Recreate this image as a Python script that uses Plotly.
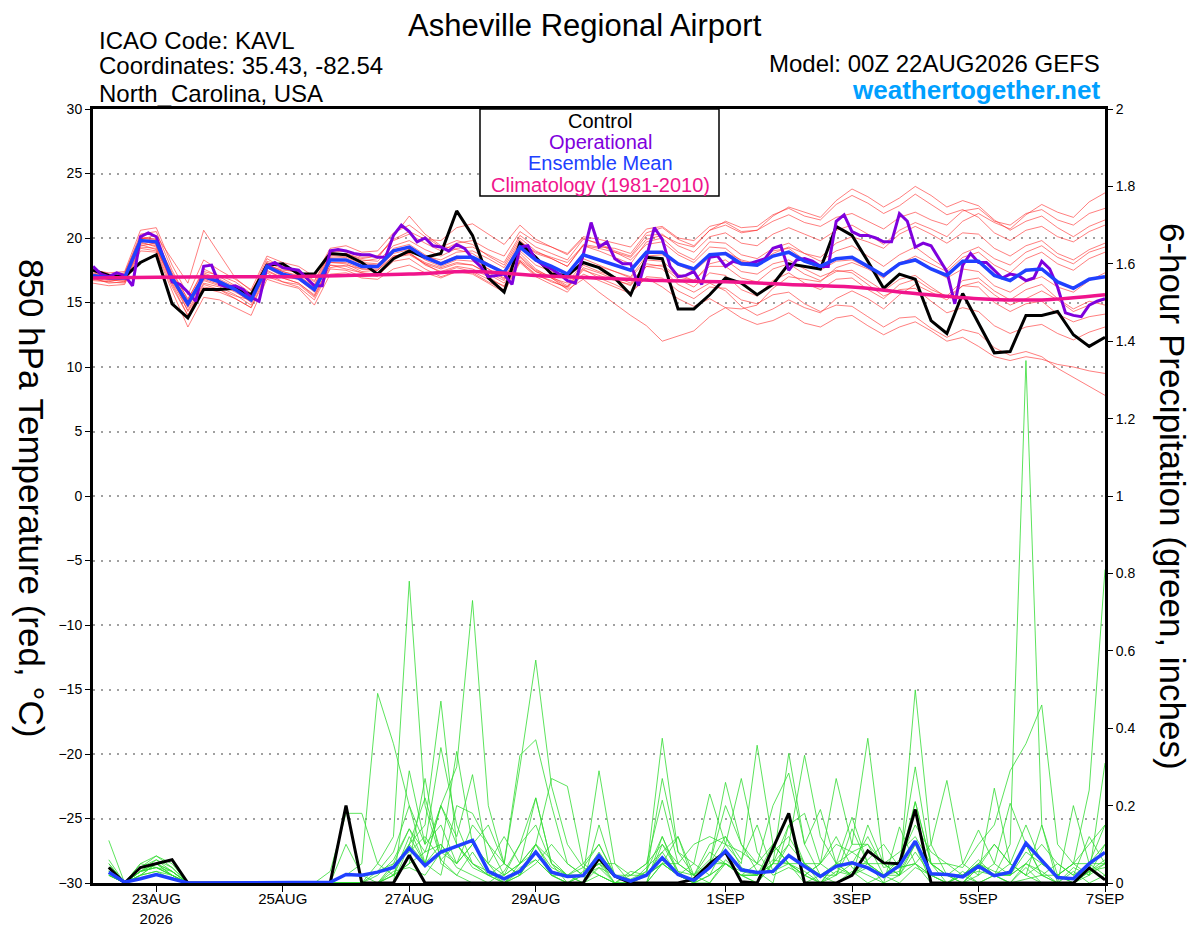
import pandas as pd
import plotly.graph_objects as go

# GEFS meteogram for KAVL, 00Z 22AUG2026 run
times_6h = pd.date_range('2026-08-22 00:00', '2026-09-07 00:00', freq='6h')
times_3h = pd.date_range('2026-08-22 00:00', '2026-09-07 00:00', freq='3h')
precip_times = times_6h[1:]

tick_dates = ['2026-08-23', '2026-08-25', '2026-08-27', '2026-08-29',
              '2026-09-01', '2026-09-03', '2026-09-05', '2026-09-07']
tick_labels = ['23AUG<br>2026', '25AUG', '27AUG', '29AUG', '1SEP', '3SEP', '5SEP', '7SEP']

# 850 hPa temperature, deg C (6-hourly)
control_t = [17.5, 17.1, 17.0, 18.1, 18.7, 14.9, 13.8, 16.0, 16.0, 16.1, 15.6,
             17.9, 18.0, 17.2, 17.2, 18.8, 18.7, 18.1, 17.2, 18.4, 19.0, 18.5,
             18.8, 22.1, 20.2, 16.9, 15.8, 19.6, 18.5, 17.2, 17.1, 18.1, 17.7,
             16.9, 15.6, 18.5, 18.4, 14.5, 14.5, 15.6, 16.9, 16.5, 15.6, 16.4,
             18.0, 17.8, 17.6, 20.9, 20.2, 18.2, 16.1, 17.2, 16.8, 13.6, 12.6,
             15.7, 13.4, 11.1, 11.2, 14.0, 14.0, 14.3, 12.5, 11.6, 12.3]

mean_t = [17.1, 16.9, 16.9, 19.8, 19.7, 16.9, 14.9, 17.0, 16.6, 16.0, 15.2,
          17.8, 17.2, 16.9, 16.0, 18.3, 18.3, 17.8, 17.8, 19.0, 19.3, 18.5,
          18.0, 18.5, 18.5, 17.9, 17.3, 19.3, 18.3, 17.8, 17.2, 18.7, 18.3,
          17.9, 17.5, 18.9, 18.9, 18.0, 17.6, 18.7, 18.8, 18.0, 17.9, 18.6,
          18.9, 18.2, 17.8, 18.4, 18.5, 17.8, 17.1, 18.0, 18.3, 17.6, 17.1,
          18.2, 18.2, 17.1, 16.7, 17.5, 17.6, 16.6, 16.1, 16.8, 17.0]

# operational run is 3-hourly
oper_t = [17.8, 17.2, 17.0, 17.3, 17.1, 16.3, 20.1, 20.4, 20.1, 18.4,
          16.6, 16.4, 15.8, 15.1, 17.8, 17.9, 16.4, 16.2, 16.3, 16.0,
          15.4, 15.1, 17.8, 18.1, 17.7, 17.6, 17.5, 16.9, 16.3, 16.3,
          19.0, 19.1, 19.0, 18.8, 18.7, 18.7, 18.5, 18.5, 20.2, 21.0,
          20.5, 19.7, 20.0, 19.4, 19.3, 19.0, 19.5, 19.2, 18.4, 17.8,
          17.0, 17.1, 17.2, 16.4, 19.3, 19.4, 18.3, 17.9, 17.6, 17.2,
          16.7, 16.5, 18.7, 21.2, 19.3, 19.7, 18.4, 18.0, 18.0, 16.3,
          18.5, 20.8, 19.9, 17.8, 17.0, 17.1, 17.4, 16.4, 18.5, 18.6,
          17.8, 18.2, 18.0, 18.0, 18.2, 18.4, 19.2, 19.4, 17.5, 18.3,
          18.4, 18.2, 17.8, 17.8, 21.3, 21.8, 20.5, 20.2, 20.2, 20.0,
          19.7, 19.7, 21.9, 21.3, 19.3, 19.6, 19.4, 18.4, 17.4, 14.9,
          17.9, 18.8, 18.1, 18.1, 17.5, 16.9, 17.2, 17.1, 16.7, 16.9,
          18.2, 17.6, 16.2, 14.2, 14.0, 13.9, 14.8, 15.1, 15.3]

# climatology (1981-2010), daily at 00Z
clim_dates = pd.date_range('2026-08-22', '2026-09-07', freq='D')
clim_t = [16.9, 16.95, 17.0, 17.0, 17.1, 17.2, 17.4, 17.1, 16.9,
          16.7, 16.6, 16.4, 16.2, 15.7, 15.3, 15.2, 15.6]

# ensemble members, 850 hPa temperature
red_01 = [17.3, 17.0, 17.2, 20.3, 20.5, 17.5, 15.2, 17.6, 17.0, 16.3, 15.5,
          18.2, 17.8, 17.5, 16.7, 18.9, 19.0, 18.5, 18.6, 19.8, 20.3, 19.6,
          19.0, 19.6, 19.8, 19.1, 18.6, 20.5, 19.7, 19.3, 18.8, 20.1, 19.9,
          19.6, 19.3, 20.7, 20.9, 20.0, 19.8, 20.9, 21.2, 20.5, 20.6, 21.3,
          21.8, 21.2, 20.9, 21.6, 21.9, 21.3, 20.7, 21.6, 22.0, 21.4, 21.0,
          22.1, 22.3, 21.3, 21.0, 21.9, 22.2, 21.4, 21.0, 21.9, 22.3]
red_02 = [16.8, 16.6, 16.5, 19.2, 19.0, 16.2, 14.0, 16.4, 16.0, 15.3, 14.6,
          17.3, 16.6, 16.2, 15.2, 17.6, 17.5, 17.0, 17.1, 18.2, 18.4, 17.6,
          17.0, 17.4, 17.2, 16.5, 15.8, 18.1, 17.0, 16.4, 15.8, 17.2, 16.7,
          16.2, 15.7, 17.0, 16.9, 15.9, 15.3, 16.2, 16.1, 15.2, 14.9, 15.6,
          15.8, 14.9, 14.3, 14.8, 14.7, 13.9, 13.1, 13.8, 13.9, 13.0, 12.3,
          12.9, 12.6, 11.5, 10.9, 11.2, 10.8, 9.9, 9.2, 8.5, 7.8]
red_03 = [17.0, 16.8, 16.6, 19.5, 19.1, 16.8, 14.6, 16.7, 16.3, 15.9, 15.0,
          17.4, 16.9, 16.5, 15.6, 17.9, 17.6, 17.3, 17.0, 18.4, 18.9, 17.9,
          17.4, 17.8, 17.6, 17.0, 16.2, 18.5, 17.4, 16.9, 16.2, 17.6, 16.9,
          16.4, 15.8, 16.9, 16.2, 15.3, 14.7, 15.3, 14.6, 13.8, 13.3, 13.6,
          14.2, 13.4, 13.1, 13.8, 14.0, 13.2, 12.5, 13.1, 13.5, 12.8, 12.0,
          12.3, 11.6, 10.8, 10.5, 10.8, 10.6, 10.2, 10.0, 9.7, 9.5]
red_04 = [17.5, 17.3, 17.4, 20.6, 20.8, 17.9, 15.6, 18.3, 17.5, 16.8, 16.0,
          18.6, 18.1, 17.8, 17.0, 19.2, 19.4, 18.9, 19.0, 20.4, 21.0, 20.1,
          19.3, 19.8, 19.5, 18.6, 17.9, 20.0, 19.0, 18.4, 17.8, 19.5, 19.3,
          19.2, 18.8, 20.4, 20.8, 19.9, 19.4, 20.6, 21.3, 20.8, 20.9, 21.8,
          22.3, 21.7, 21.4, 22.6, 23.3, 22.7, 21.9, 22.5, 23.4, 22.6, 21.8,
          22.2, 21.6, 20.4, 19.8, 20.6, 20.9, 20.1, 19.7, 20.5, 21.0]
red_05 = [16.9, 16.7, 16.8, 19.6, 19.4, 16.5, 14.4, 16.5, 16.2, 15.6, 14.8,
          17.5, 16.9, 16.5, 15.5, 17.9, 17.8, 17.3, 17.2, 18.5, 18.7, 18.0,
          17.6, 18.0, 17.9, 17.3, 16.7, 18.6, 17.5, 17.0, 16.3, 17.9, 17.4,
          17.0, 16.5, 18.0, 17.8, 16.8, 16.2, 17.3, 17.1, 16.0, 15.5, 16.7,
          17.3, 16.5, 16.0, 16.8, 16.9, 16.0, 15.3, 16.4, 16.8, 16.0, 15.5,
          16.7, 16.9, 15.9, 15.2, 16.0, 16.4, 15.3, 14.5, 15.1, 14.8]
red_06 = [17.6, 17.2, 17.0, 19.9, 20.2, 18.3, 16.5, 20.6, 18.8, 16.9, 15.9,
          17.9, 17.5, 17.4, 16.6, 18.8, 18.7, 18.2, 18.4, 20.1, 21.7, 20.3,
          19.4, 19.1, 18.8, 18.0, 17.4, 19.7, 18.9, 18.5, 18.1, 19.4, 19.0,
          18.5, 18.0, 19.7, 20.0, 18.9, 18.3, 19.7, 19.6, 18.7, 18.4, 19.2,
          19.6, 18.8, 18.2, 19.0, 19.4, 18.6, 17.8, 18.7, 19.3, 18.4, 17.6,
          18.8, 19.3, 18.4, 17.9, 18.9, 19.4, 18.5, 18.0, 18.9, 19.3]
red_07 = [16.5, 16.3, 16.4, 19.0, 18.9, 15.9, 13.1, 15.4, 15.2, 14.6, 14.0,
          16.8, 16.4, 16.1, 14.8, 17.2, 17.3, 16.9, 16.8, 17.6, 17.9, 17.3,
          16.9, 17.4, 17.3, 16.6, 16.0, 18.2, 17.2, 16.6, 16.2, 17.7, 17.3,
          16.8, 16.3, 17.8, 17.6, 16.4, 15.8, 16.5, 15.9, 14.7, 14.0, 14.5,
          15.2, 14.6, 14.2, 15.3, 15.9, 15.3, 14.5, 15.6, 16.4, 15.8, 15.2,
          16.3, 16.6, 15.6, 14.8, 15.3, 15.9, 15.2, 14.3, 14.8, 15.2]
red_08 = [17.1, 16.9, 17.1, 20.0, 19.8, 17.2, 15.0, 17.3, 16.8, 16.2, 15.3,
          17.9, 17.4, 17.1, 16.2, 18.4, 18.5, 18.0, 17.9, 19.2, 19.5, 18.7,
          18.1, 18.6, 18.4, 17.6, 16.8, 18.8, 17.6, 16.9, 16.0, 16.8, 15.8,
          14.9, 14.0, 13.2, 12.0, 12.4, 12.8, 13.9, 14.6, 14.5, 14.8, 16.1,
          17.0, 16.8, 16.6, 17.7, 18.1, 17.6, 16.9, 18.0, 18.6, 18.0, 17.4,
          18.5, 18.9, 17.9, 17.3, 18.4, 18.9, 18.0, 17.5, 18.4, 18.9]
red_09 = [17.2, 17.1, 17.3, 20.1, 19.9, 17.3, 15.3, 17.4, 17.1, 16.6, 15.7,
          18.4, 17.7, 17.3, 16.4, 18.7, 18.8, 18.3, 18.2, 19.4, 19.8, 19.1,
          18.6, 19.2, 19.3, 18.7, 18.1, 20.2, 19.3, 18.8, 18.3, 19.9, 19.6,
          19.0, 18.6, 20.2, 20.3, 19.4, 18.9, 20.1, 20.4, 19.6, 19.4, 20.3,
          20.8, 20.3, 19.8, 20.6, 21.0, 20.3, 19.5, 20.6, 21.2, 20.7, 20.1,
          21.3, 21.9, 21.2, 20.7, 21.8, 22.6, 22.0, 21.6, 22.8, 23.5]
red_10 = [16.7, 16.6, 16.9, 19.7, 19.3, 16.6, 14.7, 16.9, 16.5, 16.1, 15.4,
          18.0, 17.4, 17.0, 16.1, 18.5, 18.6, 18.1, 18.0, 19.0, 19.2, 18.6,
          18.3, 18.9, 19.0, 18.4, 17.7, 19.8, 18.8, 18.4, 17.8, 19.4, 19.2,
          18.9, 18.5, 19.9, 20.2, 19.6, 19.3, 20.6, 21.0, 20.4, 20.6, 21.7,
          22.4, 22.0, 21.6, 22.9, 23.8, 23.2, 22.4, 23.1, 24.0, 23.3, 22.4,
          22.9, 22.5, 21.4, 20.6, 21.3, 21.7, 20.8, 20.1, 20.9, 21.4]
red_11 = [17.0, 16.8, 16.7, 19.8, 19.5, 16.9, 14.8, 16.8, 16.4, 15.8, 15.1,
          17.7, 17.0, 16.8, 15.8, 18.1, 18.1, 17.6, 17.6, 18.8, 19.1, 18.3,
          17.8, 18.3, 18.2, 17.6, 16.9, 19.0, 17.9, 17.4, 16.8, 18.4, 17.9,
          17.4, 16.9, 18.3, 18.2, 17.2, 16.7, 17.8, 17.8, 16.9, 16.6, 17.6,
          18.0, 17.2, 16.7, 17.4, 17.5, 16.7, 15.9, 16.8, 17.1, 16.2, 15.4,
          16.3, 16.2, 15.0, 14.3, 14.9, 15.1, 14.1, 13.5, 13.9, 14.1]
red_12 = [17.4, 17.0, 16.9, 19.4, 19.6, 17.0, 14.3, 16.2, 16.0, 15.5, 15.2,
          17.7, 17.2, 16.9, 16.0, 18.1, 18.0, 17.4, 17.5, 18.6, 18.8, 18.0,
          17.3, 17.7, 17.4, 16.8, 16.3, 18.2, 17.1, 16.7, 16.1, 17.5, 17.1,
          16.7, 16.4, 17.8, 17.9, 17.0, 16.7, 18.0, 18.3, 17.4, 17.2, 18.0,
          18.3, 17.6, 17.0, 17.5, 17.3, 16.4, 15.5, 16.0, 16.1, 15.1, 14.2,
          14.6, 14.3, 13.2, 12.6, 13.1, 13.3, 12.6, 12.1, 12.7, 13.1]
red_13 = [17.2, 16.9, 17.0, 20.0, 19.9, 17.1, 15.1, 17.2, 16.7, 16.1, 15.4,
          18.1, 17.6, 17.3, 16.3, 18.6, 18.8, 18.4, 18.6, 19.9, 20.5, 19.9,
          19.8, 20.8, 21.1, 20.3, 19.5, 21.0, 19.9, 19.3, 18.7, 20.0, 19.5,
          18.9, 18.3, 19.5, 19.7, 18.7, 18.1, 19.3, 19.2, 18.2, 17.9, 18.8,
          19.3, 18.8, 18.5, 19.6, 20.1, 19.7, 19.2, 20.3, 20.9, 20.3, 19.6,
          20.4, 20.3, 19.2, 18.6, 19.4, 19.8, 18.8, 18.3, 19.1, 19.6]
red_14 = [16.9, 16.5, 16.6, 19.3, 19.2, 16.4, 14.0, 16.1, 15.8, 15.3, 14.6,
          17.0, 16.6, 16.4, 15.4, 17.7, 17.9, 17.6, 17.5, 18.6, 18.8, 18.1,
          17.7, 18.1, 17.9, 17.2, 16.5, 18.3, 17.4, 16.9, 16.5, 18.1, 17.8,
          17.4, 17.0, 18.6, 18.7, 17.9, 17.4, 18.5, 18.9, 18.3, 18.0, 19.0,
          19.2, 18.3, 17.5, 18.2, 18.3, 17.7, 17.2, 18.1, 18.4, 17.6, 16.9,
          17.6, 17.4, 16.3, 15.8, 16.6, 17.0, 16.2, 15.8, 16.7, 17.3]

# 6-hour precipitation, inches (periods ending 06Z 22AUG .. 00Z 07SEP)
control_p = [0.04, 0.0, 0.04, 0.05, 0.06, 0.0, 0.0, 0.0,
             0.0, 0.0, 0.0, 0.0, 0.0, 0.0, 0.0, 0.20,
             0.0, 0.0, 0.0, 0.072, 0.0, 0.0, 0.0, 0.0,
             0.0, 0.0, 0.0, 0.0, 0.0, 0.0, 0.0, 0.064,
             0.018, 0.0, 0.0, 0.0, 0.0, 0.01, 0.05, 0.08,
             0.003, 0.0, 0.09, 0.18, 0.0, 0.0, 0.0, 0.02,
             0.083, 0.052, 0.05, 0.19, 0.0, 0.0, 0.0, 0.0,
             0.0, 0.0, 0.0, 0.0, 0.0, 0.0, 0.039, 0.008]
mean_p = [0.028, 0.002, 0.011, 0.022, 0.011, 0.0, 0.0, 0.0,
          0.0, 0.0, 0.0, 0.0, 0.0, 0.0, 0.002, 0.022,
          0.02, 0.028, 0.04, 0.09, 0.045, 0.08, 0.095, 0.11,
          0.03, 0.011, 0.03, 0.08, 0.028, 0.017, 0.019, 0.071,
          0.018, 0.005, 0.02, 0.065, 0.022, 0.007, 0.04, 0.083,
          0.034, 0.027, 0.03, 0.071, 0.043, 0.017, 0.043, 0.052,
          0.039, 0.017, 0.045, 0.108, 0.024, 0.022, 0.016, 0.043,
          0.019, 0.028, 0.103, 0.058, 0.014, 0.011, 0.05, 0.079]

green_01 = [0.11, 0.0, 0.03, 0.05, 0.02, 0, 0, 0,
            0, 0, 0, 0, 0, 0, 0, 0.02,
            0.05, 0.49, 0.36, 0.2, 0.05, 0.1, 0.04, 0.02,
            0, 0.03, 0.1, 0.22, 0.05, 0, 0, 0.15,
            0.02, 0, 0, 0.12, 0.03, 0, 0.05, 0.2,
            0.1, 0.03, 0, 0.15, 0.05, 0, 0.02, 0.14,
            0.05, 0, 0.02, 0.21, 0.05, 0, 0, 0.04,
            0.1, 0.05, 0.02, 0.15, 0, 0, 0.05, 0.15]
green_02 = [0.04, 0, 0.05, 0.07, 0.04, 0, 0, 0,
            0, 0, 0, 0, 0, 0, 0, 0,
            0, 0.05, 0.12, 0.78, 0.2, 0.06, 0.02, 0,
            0, 0, 0.05, 0.08, 0.02, 0, 0.03, 0.06,
            0, 0, 0.02, 0.27, 0.08, 0.02, 0, 0.06,
            0.02, 0, 0.05, 0.335, 0.1, 0.02, 0, 0.03,
            0, 0.02, 0.03, 0.1, 0, 0, 0.03, 0,
            0.02, 0, 0.04, 0, 0, 0.03, 0, 0.02]
green_03 = [0.03, 0, 0.04, 0.06, 0.03, 0, 0, 0,
            0, 0, 0, 0, 0, 0, 0, 0,
            0, 0.02, 0.06, 0.14, 0.08, 0.2, 0.3, 0.73,
            0.2, 0.05, 0.02, 0.1, 0.03, 0.02, 0, 0.04,
            0, 0, 0.02, 0.08, 0.02, 0, 0.05, 0.12,
            0.04, 0.02, 0.05, 0.1, 0.33, 0.12, 0.05, 0.02,
            0.05, 0.02, 0, 0.04, 0.02, 0, 0.02, 0.05,
            0.02, 0, 0.01, 0.02, 0, 0, 0.03, 0.06]
green_04 = [0.02, 0, 0.03, 0.04, 0.02, 0, 0, 0,
            0, 0, 0, 0, 0, 0, 0, 0,
            0, 0, 0.04, 0.1, 0.15, 0.47, 0.1, 0.04,
            0.02, 0.05, 0.3, 0.576, 0.25, 0.1, 0.04, 0.02,
            0, 0, 0.04, 0.08, 0.12, 0, 0, 0.05,
            0.02, 0.05, 0.03, 0.05, 0, 0.02, 0.04, 0.02,
            0.06, 0.1, 0.04, 0.05, 0, 0, 0.02, 0,
            0.02, 0.05, 0.02, 0, 0, 0.04, 0.02, 0.1]
green_05 = [0.03, 0, 0.02, 0.05, 0.03, 0, 0, 0,
            0, 0, 0, 0, 0, 0, 0, 0,
            0, 0, 0.02, 0.05, 0.27, 0.05, 0.02, 0.08,
            0.02, 0, 0.04, 0.06, 0.02, 0, 0.02, 0.04,
            0.02, 0, 0, 0.05, 0.02, 0, 0.02, 0.1,
            0.27, 0.08, 0.02, 0.04, 0.02, 0, 0.05, 0.08,
            0.1, 0.02, 0.05, 0.3, 0.05, 0.02, 0, 0.04,
            0.02, 0.1, 1.35, 0.15, 0.02, 0, 0.03, 0.05]
green_06 = [0.05, 0, 0.03, 0.04, 0.02, 0, 0, 0,
            0, 0, 0, 0, 0, 0, 0, 0,
            0, 0, 0, 0.29, 0.1, 0.35, 0.15, 0.05,
            0.03, 0, 0.02, 0.1, 0.04, 0.02, 0, 0.02,
            0, 0.02, 0.05, 0.214, 0.05, 0.02, 0.06, 0.05,
            0.03, 0.02, 0.06, 0.05, 0.02, 0, 0.03, 0.02,
            0.04, 0.02, 0.06, 0.15, 0.08, 0.05, 0.04, 0.1,
            0.15, 0.29, 0.36, 0.46, 0.1, 0.05, 0.24, 0.81]
green_07 = [0.06, 0, 0.02, 0.03, 0.01, 0, 0, 0,
            0, 0, 0, 0, 0, 0, 0.03, 0.18,
            0.18, 0.05, 0.02, 0.1, 0.22, 0.08, 0.34, 0.1,
            0.15, 0.05, 0.33, 0.37, 0.2, 0.05, 0.02, 0.29,
            0.05, 0, 0, 0.05, 0.02, 0.05, 0.23, 0.1,
            0.05, 0.356, 0.1, 0.05, 0.02, 0.05, 0.12, 0.04,
            0.02, 0, 0.145, 0.05, 0.02, 0.02, 0, 0.02,
            0.05, 0.206, 0.1, 0.02, 0, 0.2, 0.05, 0.02]
green_08 = [0.02, 0, 0.02, 0.03, 0.02, 0, 0, 0,
            0, 0, 0, 0, 0, 0, 0, 0.1,
            0.02, 0, 0.05, 0.14, 0.05, 0.2, 0.12, 0.28,
            0.05, 0.12, 0.05, 0.1, 0.27, 0.25, 0.05, 0.02,
            0, 0.03, 0.02, 0.05, 0.12, 0.02, 0.05, 0.26,
            0.1, 0.05, 0.2, 0.284, 0.1, 0.19, 0.05, 0.17,
            0.05, 0.02, 0.04, 0.05, 0.1, 0.265, 0.05, 0.137,
            0.05, 0.02, 0.05, 0.02, 0.05, 0.02, 0.12, 0.05]
green_09 = [0.04, 0, 0.03, 0.06, 0.04, 0, 0, 0,
            0, 0, 0, 0, 0, 0, 0, 0,
            0, 0, 0, 0.1, 0.05, 0.02, 0.2, 0.18,
            0.1, 0.02, 0.05, 0.22, 0.05, 0.02, 0.04, 0.1,
            0.02, 0.01, 0.03, 0.374, 0.08, 0.05, 0.02, 0.05,
            0.02, 0.02, 0.05, 0.15, 0.18, 0.05, 0.27, 0.1,
            0.374, 0.05, 0.02, 0.499, 0.1, 0.02, 0.05, 0.02,
            0.245, 0.05, 0.02, 0.05, 0.02, 0.05, 0.02, 0.31]
green_10 = [0.03, 0, 0.05, 0.04, 0.03, 0, 0, 0,
            0, 0, 0, 0, 0, 0, 0, 0,
            0, 0.03, 0.08, 0.2, 0.1, 0.15, 0.05, 0.1,
            0.05, 0.02, 0.1, 0.15, 0.05, 0.02, 0.02, 0.05,
            0.05, 0.02, 0.05, 0.1, 0.03, 0.02, 0.1, 0.12,
            0.06, 0.15, 0.03, 0.1, 0.05, 0.02, 0.05, 0.05,
            0.12, 0.04, 0.05, 0.21, 0.05, 0.05, 0.02, 0.05,
            0.1, 0.05, 0.15, 0.05, 0.02, 0.05, 0.1, 0.15]
green_11 = [0.02, 0, 0.02, 0.05, 0.02, 0, 0, 0,
            0, 0, 0, 0, 0, 0, 0, 0,
            0, 0, 0.02, 0.05, 0.08, 0.1, 0.05, 0.15,
            0.1, 0.05, 0.02, 0.05, 0.1, 0.05, 0.02, 0.08,
            0.02, 0, 0.02, 0.05, 0.05, 0.1, 0.12, 0.1,
            0.08, 0.05, 0.1, 0.05, 0.02, 0.05, 0.1, 0.08,
            0.05, 0.05, 0.08, 0.12, 0.05, 0.02, 0.02, 0.06,
            0.02, 0.02, 0.05, 0.1, 0.05, 0.02, 0.05, 0.1]
green_12 = [0.05, 0, 0.03, 0.05, 0.03, 0, 0, 0,
            0, 0, 0, 0, 0, 0, 0, 0.02,
            0.02, 0.03, 0.05, 0.08, 0.12, 0.06, 0.1, 0.05,
            0.02, 0, 0.02, 0.08, 0.02, 0.02, 0.02, 0.05,
            0.02, 0, 0, 0.1, 0.05, 0.02, 0.08, 0.05,
            0.02, 0.02, 0.08, 0.12, 0.05, 0.05, 0.02, 0.1,
            0.1, 0.05, 0.02, 0.08, 0.02, 0, 0, 0.05,
            0.02, 0.02, 0.08, 0.05, 0.02, 0, 0.02, 0.05]
green_13 = [0.03, 0, 0.04, 0.07, 0.05, 0, 0, 0,
            0, 0, 0, 0, 0, 0, 0, 0,
            0, 0, 0.02, 0.12, 0.05, 0.2, 0.1, 0.05,
            0.02, 0.02, 0.05, 0.1, 0.06, 0.02, 0.05, 0.1,
            0.02, 0.02, 0.02, 0.05, 0.02, 0.01, 0.05, 0.05,
            0.02, 0.02, 0.1, 0.05, 0.05, 0.02, 0.02, 0.05,
            0.05, 0.02, 0.02, 0.1, 0.05, 0.02, 0.02, 0.05,
            0.03, 0.02, 0.1, 0.02, 0.02, 0.05, 0.05, 0.05]
green_14 = [0.02, 0, 0.03, 0.04, 0.02, 0, 0, 0,
            0, 0, 0, 0, 0, 0, 0, 0,
            0, 0, 0.03, 0.04, 0.02, 0.08, 0.05, 0.1,
            0.05, 0, 0.03, 0.06, 0.02, 0, 0.02, 0.05,
            0, 0, 0.03, 0.12, 0.02, 0, 0.02, 0.05,
            0.02, 0, 0.05, 0.05, 0.03, 0, 0.05, 0.02,
            0.15, 0.05, 0.02, 0.05, 0.02, 0, 0.02, 0.03,
            0.02, 0, 0.05, 0.03, 0, 0, 0.03, 0.04]

red_members = [red_01, red_02, red_03, red_04, red_05, red_06, red_07,
               red_08, red_09, red_10, red_11, red_12, red_13, red_14]
green_members = [green_01, green_02, green_03, green_04, green_05, green_06, green_07,
                 green_08, green_09, green_10, green_11, green_12, green_13, green_14]

FONT = 'Liberation Sans, Arial, sans-serif'
RED = 'rgba(255,40,40,0.75)'
GREEN = 'rgb(50,220,50)'
PURPLE = '#7F00DD'
BLUE = '#2040FF'
PINK = '#F0148C'

fig = go.Figure()

for m in red_members:
    fig.add_trace(go.Scatter(x=times_6h, y=m, mode='lines',
                             line=dict(color=RED, width=0.8), hoverinfo='skip'))

fig.add_trace(go.Scatter(x=times_6h, y=control_t, mode='lines', line=dict(color='black', width=3)))
fig.add_trace(go.Scatter(x=times_3h, y=oper_t, mode='lines', line=dict(color=PURPLE, width=3)))
fig.add_trace(go.Scatter(x=times_6h, y=mean_t, mode='lines', line=dict(color=BLUE, width=3.5)))
fig.add_trace(go.Scatter(x=clim_dates, y=clim_t, mode='lines',
                         line=dict(color=PINK, width=3.5, shape='spline')))

for m in green_members:
    fig.add_trace(go.Scatter(x=precip_times, y=m, mode='lines', yaxis='y2',
                             line=dict(color=GREEN, width=0.8), hoverinfo='skip'))

fig.add_trace(go.Scatter(x=precip_times, y=control_p, mode='lines', yaxis='y2',
                         line=dict(color='black', width=3)))
fig.add_trace(go.Scatter(x=precip_times, y=mean_p, mode='lines', yaxis='y2',
                         line=dict(color=BLUE, width=3.5)))

# page has an 8px body margin, plot area sits at 93..1105 x 109..883 on screen
def px(x):
    return (x - 93) / 1012.0

def py(y):
    return (883 - y) / 774.0

ann = []
ann.append(dict(text='Asheville Regional Airport', x=px(585), y=py(26), font=dict(size=31)))
for txt, yy in [('ICAO Code: KAVL', 40), ('Coordinates: 35.43, -82.54', 66), ('North_Carolina, USA', 93)]:
    ann.append(dict(text=txt, x=px(97), y=py(yy), xanchor='left', font=dict(size=24)))
ann.append(dict(text='Model: 00Z 22AUG2026 GEFS', x=px(1102), y=py(64), xanchor='right', font=dict(size=24)))
ann.append(dict(text='<b>weathertogether.net</b>', x=px(1102), y=py(90), xanchor='right',
                font=dict(size=26, color='#00A0FF')))
for txt, col, yy in [('Control', 'black', 121), ('Operational', PURPLE, 142),
                     ('Ensemble Mean', BLUE, 163), ('Climatology (1981-2010)', PINK, 185)]:
    ann.append(dict(text=txt, x=px(600), y=py(yy), font=dict(size=20, color=col)))
ann.append(dict(text='850 hPa Temperature (red, °C)', x=px(32), y=py(498),
                textangle=90, font=dict(size=35)))
ann.append(dict(text='6-hour Precipitation (green, inches)', x=px(1173), y=py(496),
                textangle=90, font=dict(size=35)))
for a in ann:
    a.update(xref='paper', yref='paper', showarrow=False, yanchor='middle')
    a.setdefault('xanchor', 'center')
    a['font'].setdefault('color', 'black')
    a['font']['family'] = FONT

fig.update_layout(
    width=1192, height=919,
    margin=dict(l=85, r=95, t=101, b=44),
    paper_bgcolor='white', plot_bgcolor='white',
    showlegend=False,
    font=dict(family=FONT, color='black'),
    annotations=ann,
    shapes=[dict(type='rect', xref='paper', yref='paper', x0=px(480), x1=px(719),
                 y0=py(196), y1=1.0, line=dict(color='black', width=1.5),
                 fillcolor='white', layer='above')],
    xaxis=dict(range=['2026-08-22 00:00', '2026-09-07 00:00'],
               tickvals=tick_dates, ticktext=tick_labels, automargin=False,
               tickfont=dict(size=15), ticks='outside', ticklen=6, tickcolor='black',
               ticklabelstandoff=-6,
               showline=True, linecolor='black', linewidth=3, mirror=True,
               showgrid=False, zeroline=False),
    yaxis=dict(range=[-30, 30], dtick=5, tickfont=dict(size=14), automargin=False,
               ticks='outside', ticklen=5, tickcolor='black',
               showline=True, linecolor='black', linewidth=3,
               showgrid=True, gridcolor='#A0A0A0', griddash='2px,6px', gridwidth=1.5,
               zeroline=False),
    yaxis2=dict(range=[0, 2], dtick=0.2, overlaying='y', side='right', automargin=False,
                tickfont=dict(size=14), ticks='outside', ticklen=5, tickcolor='black',
                showline=True, linecolor='black', linewidth=3,
                showgrid=False, zeroline=False),
)

fig.write_html('out.html')
